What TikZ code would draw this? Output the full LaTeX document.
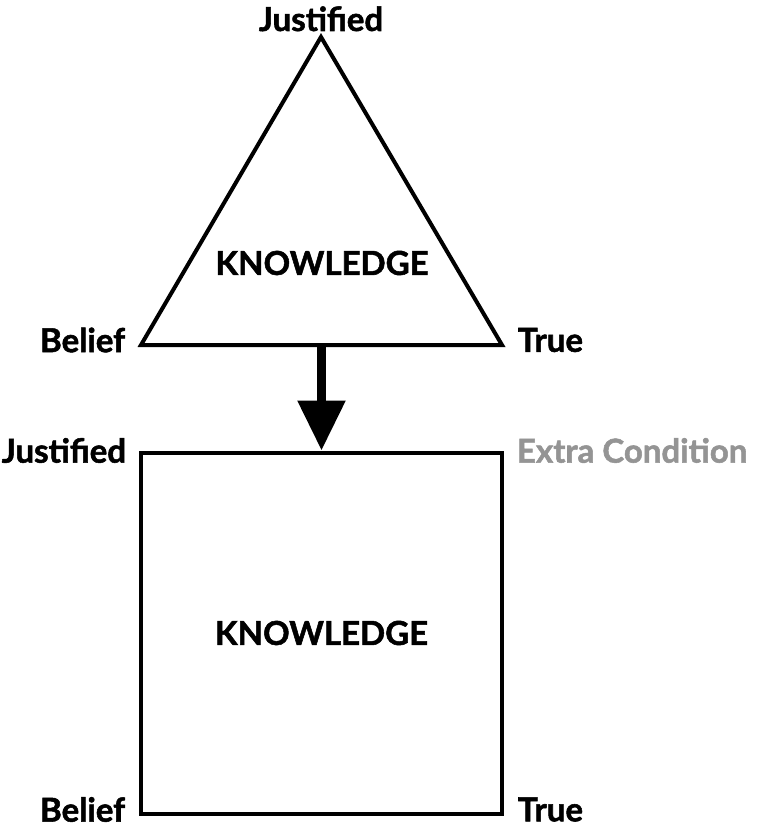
\documentclass[tikz,border=0pt]{standalone}
\usepackage{fontspec}
\setmainfont{Lato}[BoldFeatures={FakeBold=1.6}]
\usetikzlibrary{arrows.meta,positioning,calc}

\begin{document}
\begin{tikzpicture}[x=1pt,y=-1pt,line width=4pt,
	every node/.style={font=\bfseries\fontsize{33}{40}\selectfont},
	corner/.style={inner sep=0pt},
	extra/.style={text=black!42}]
			\useasboundingbox (0,0) rectangle (758,829);
			% triangle
			\coordinate (J) at (321,37);
			\coordinate (B) at (141,345);
			\coordinate (T) at (502,345);
			\draw[line join=miter] (J) -- (B) -- (T) -- cycle;
			\node[corner,above=6pt of J,anchor=base] (jtop) {Justified};
			\node[corner,left=14pt of B,yshift=5pt] (btop) {Belief};
			\node[corner,right=14pt of T,yshift=5pt] (ttop) {True};
			\node (ktop) at (322,263) {KNOWLEDGE};
			% square
			\node[draw,minimum size=361pt,inner sep=0pt] (sq) at (321.5,633) {KNOWLEDGE};
			\node[corner,left=11pt of sq.north west] (jsq) {Justified};
			\node[corner,right=11pt of sq.north east,extra] (esq) {Extra Condition};
			\node[corner,left=12pt of sq.south west,yshift=6pt] (bsq) {Belief};
			\node[corner,right=12pt of sq.south east,yshift=6pt] (tsq) {True};
			% arrow
			\coordinate (base) at ($(B)!0.5!(T)$);
			\draw[line width=9pt,-{Triangle[length=50pt,width=46pt]}] (base) -- (sq.north);
			\end{tikzpicture}
\end{document}
